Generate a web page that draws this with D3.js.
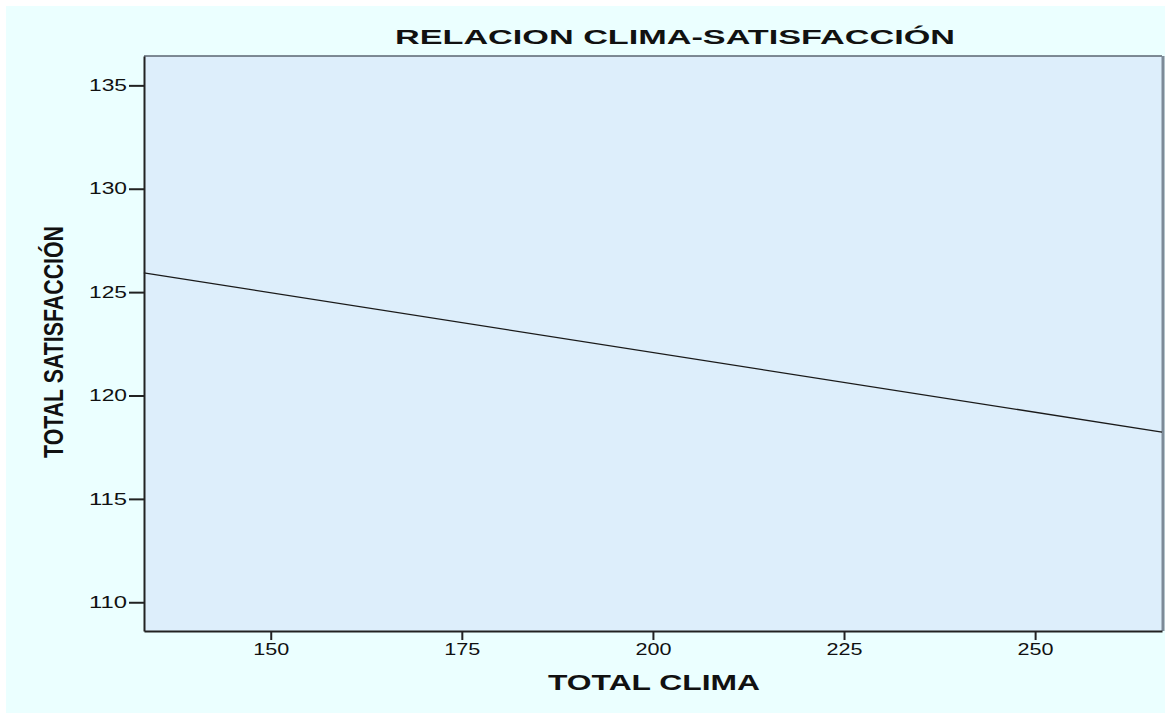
<!DOCTYPE html>
<html>
<head>
    <title>Relacion clima-satisfaccion</title>
    <script src="https://d3js.org/d3.v7.min.js"></script>
    <style>
        body { margin: 0; background: #fff; }
        text { font-family: "Liberation Sans", Arial, sans-serif; fill: #111; }
    </style>
</head>
<body>
    <div id="chart"></div>
    <script>
        // regression line endpoints (TOTAL CLIMA -> TOTAL SATISFACCION)
        var climaValues = [133.4, 266.6];
        var satisValues = [125.93, 118.23];
        var xTicks = [150, 175, 200, 225, 250];
        var yTicks = [110, 115, 120, 125, 130, 135];
        var xDomain = [133.42, 266.6];
        var yDomain = [108.61, 136.42];

        var W = 1165, H = 713;
        var plot = { left: 144, top: 56, right: 1162, bottom: 631 };

        var svg = d3.select("#chart").append("svg")
            .attr("width", W)
            .attr("height", H);

        // outer background
        svg.append("rect")
            .attr("x", 6).attr("y", 6)
            .attr("width", W - 6).attr("height", H - 6)
            .attr("fill", "#EBFFFF");

        var x = d3.scaleLinear().domain(xDomain).range([plot.left, plot.right]);
        var y = d3.scaleLinear().domain(yDomain).range([plot.bottom, plot.top]);

        // plot area
        svg.append("rect")
            .attr("x", plot.left).attr("y", plot.top)
            .attr("width", plot.right - plot.left).attr("height", plot.bottom - plot.top)
            .attr("fill", "#DDEEFB");

        // top and right frame
        svg.append("line")
            .attr("x1", plot.left).attr("x2", plot.right)
            .attr("y1", plot.top).attr("y2", plot.top)
            .attr("stroke", "#5a6570").attr("stroke-width", 1.5);
        svg.append("line")
            .attr("x1", plot.right + 1).attr("x2", plot.right + 1)
            .attr("y1", plot.top).attr("y2", plot.bottom)
            .attr("stroke", "#7d8a98").attr("stroke-width", 3);

        // regression line
        svg.append("path")
            .datum(d3.zip(climaValues, satisValues))
            .attr("d", d3.line().x(function (d) { return x(d[0]); }).y(function (d) { return y(d[1]); }))
            .attr("fill", "none")
            .attr("stroke", "#1a1a1a")
            .attr("stroke-width", 1.3);

        // axes
        var xAxis = svg.append("g")
            .attr("transform", "translate(0," + plot.bottom + ")")
            .call(d3.axisBottom(x).tickValues(xTicks).tickSize(9).tickPadding(4).tickSizeOuter(0));
        var yAxis = svg.append("g")
            .attr("transform", "translate(" + plot.left + ",0)")
            .call(d3.axisLeft(y).tickValues(yTicks).tickSize(15).tickPadding(2).tickSizeOuter(0));

        [xAxis, yAxis].forEach(function (g) {
            g.select(".domain").attr("stroke", "#222").attr("stroke-width", 2);
            g.selectAll(".tick line").attr("stroke", "#222").attr("stroke-width", 2);
            g.selectAll(".tick text")
                .attr("font-size", 16)
                .attr("font-family", "Liberation Sans, Arial, sans-serif")
                .attr("fill", "#111");
        });
        xAxis.selectAll(".tick text").attr("textLength", 36).attr("lengthAdjust", "spacingAndGlyphs");
        yAxis.selectAll(".tick text").attr("textLength", 38).attr("lengthAdjust", "spacingAndGlyphs");

        // title
        svg.append("text")
            .attr("x", 395).attr("y", 44)
            .attr("font-size", 21)
            .attr("font-weight", "bold")
            .attr("textLength", 560)
            .attr("lengthAdjust", "spacingAndGlyphs")
            .text("RELACION CLIMA-SATISFACCIÓN");

        // x label
        svg.append("text")
            .attr("x", 548).attr("y", 690)
            .attr("font-size", 22)
            .attr("font-weight", "bold")
            .attr("textLength", 212)
            .attr("lengthAdjust", "spacingAndGlyphs")
            .text("TOTAL CLIMA");

        // y label
        svg.append("text")
            .attr("transform", "translate(63,458) rotate(-90)")
            .attr("font-size", 27)
            .attr("font-weight", "bold")
            .attr("textLength", 232)
            .attr("lengthAdjust", "spacingAndGlyphs")
            .text("TOTAL SATISFACCIÓN");
    </script>
</body>
</html>
